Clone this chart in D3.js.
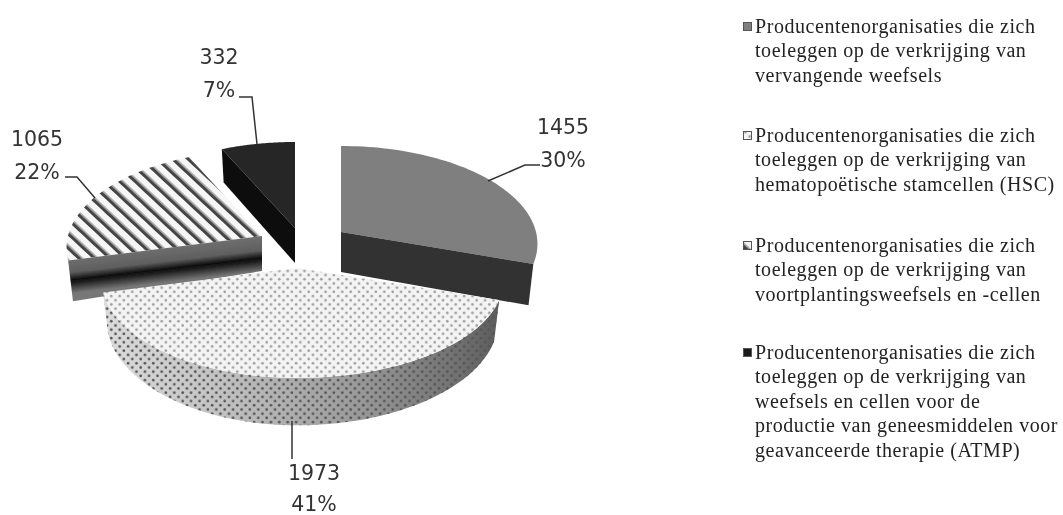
<!DOCTYPE html>
<html><head><meta charset="utf-8">
<script src="https://cdn.jsdelivr.net/npm/d3@7/dist/d3.min.js"></script>
<style>
html,body{margin:0;padding:0;background:#fff}
svg{display:block}
.lab{font-family:"DejaVu Sans",sans-serif;font-size:20.5px;fill:#333;text-anchor:middle;filter:blur(.35px)}
.leg{font-family:"Liberation Serif",serif;font-size:20px;letter-spacing:.55px;fill:#222;filter:blur(.5px)}
</style></head><body>
<svg id="c" width="1063" height="515"></svg>
<script>
const categories=["vervangende weefsels","HSC","voortplantingsweefsels en -cellen","ATMP"];
const values=[1455,1973,1065,332];
const percents=["30%","41%","22%","7%"];
const legendLines=[
 ["Producentenorganisaties die zich","toeleggen op de verkrijging van","vervangende weefsels"],
 ["Producentenorganisaties die zich","toeleggen op de verkrijging van","hematopoëtische stamcellen (HSC)"],
 ["Producentenorganisaties die zich","toeleggen op de verkrijging van","voortplantingsweefsels en -cellen"],
 ["Producentenorganisaties die zich","toeleggen op de verkrijging van","weefsels en cellen voor de","productie van geneesmiddelen voor","geavanceerde therapie (ATMP)"]
];
const apex=[[341,232],[297,268],[262,236],[295,228]];
const apexDepth=[40,39,35,35];
const radiusRight=[195,205,195,195];
const labelY=[[134,167],[480,511],[146,179],[64,97]];
const labelX=[563,314,37,219];
const leaders=[
 [[540,165],[525,165],[488,181]],
 [[292,421],[292,459]],
 [[65,177],[77,177],[95,198]],
 [[239,97],[252,97],[257,144]]
];
const legendY=[27,136,246,353];

const svg=d3.select("#c"),defs=svg.append("defs");
const pie=d3.pie().sort(null).value(d=>d)(values);
const Rl=194,Ry=96.5,c=.122,D=39,narrow=.975;
const proj=(a,i,z)=>{const o=apex[i],u=Math.sin(a),v=-Math.cos(a),w=1/(1-c*v);
 const R=u>0?radiusRight[i]:Rl;
 return [o[0]+R*u*w*(z?narrow:1),o[1]+Ry*v*w+(z?D*Math.pow(w,1.5):0)];};
const line=d3.line();
const arcPts=(a0,a1,i,z)=>d3.range(0,61).map(k=>proj(a0+(a1-a0)*k/60,i,z));

defs.append("filter").attr("id","soft").append("feGaussianBlur").attr("stdDeviation",.55);
const st=defs.append("pattern").attr("id","stripes").attr("patternUnits","userSpaceOnUse")
 .attr("width",10.5).attr("height",10.5).attr("patternTransform","rotate(-47)");
st.append("rect").attr("width",10.5).attr("height",10.5).attr("fill","#f6f6f6");
st.append("rect").attr("width",3.4).attr("height",10.5).attr("fill","#444");
st.append("rect").attr("x",3.4).attr("width",1.2).attr("height",10.5).attr("fill","#aaa");
const dot=(id,bg,fg,r)=>{const p=defs.append("pattern").attr("id",id).attr("patternUnits","userSpaceOnUse")
 .attr("width",8.4).attr("height",8.4);
 if(bg)p.append("rect").attr("width",8.4).attr("height",8.4).attr("fill",bg);
 [[2.1,2.1],[6.3,6.3]].forEach(q=>p.append("circle").attr("cx",q[0]).attr("cy",q[1]).attr("r",r).attr("fill",fg));};
dot("dots","#f4f4f4","#a0a0a0",1.35);
dot("dotsDark",null,"#555",1.35);
const wf=defs.append("linearGradient").attr("id","wallGrad");
[[0,"#dcdcdc"],[.3,"#c2c2c2"],[.65,"#999"],[.9,"#707070"],[1,"#5c5c5c"]].forEach(s=>wf.append("stop").attr("offset",s[0]).attr("stop-color",s[1]));

const g=svg.append("g").attr("filter","url(#soft)");
function cutFace(a,i){const o=apex[i];
 return line([o,proj(a,i,0),proj(a,i,1),[o[0],o[1]+apexDepth[i]]])+"Z";}
function wallPath(a0,a1,i){
 return line(arcPts(a0,a1,i,0).concat(arcPts(a0,a1,i,1).reverse()))+"Z";}
function topFace(a0,a1,i){return line([apex[i]].concat(arcPts(a0,a1,i,0)))+"Z";}

// slice 4 (ATMP)
{const s=pie[3];
 g.append("path").attr("d",topFace(s.startAngle,s.endAngle,3)).attr("fill","#262626");
 g.append("path").attr("d",cutFace(s.startAngle,3)).attr("fill","#101010");}
// slice 3 (stripes)
{const s=pie[2],o=apex[2],d=apexDepth[2];
 const gr=defs.append("linearGradient").attr("id","band").attr("gradientUnits","userSpaceOnUse")
  .attr("x1",o[0]).attr("y1",o[1]).attr("x2",o[0]+d*.115).attr("y2",o[1]+d);
 [[0,"#6f6f6f"],[.4,"#5f5f5f"],[.62,"#0e0e0e"],[.72,"#222"],[1,"#777"]].forEach(t=>gr.append("stop").attr("offset",t[0]).attr("stop-color",t[1]));
 g.append("path").attr("d",topFace(s.startAngle,s.endAngle,2)).attr("fill","url(#stripes)");
 g.append("path").attr("d",cutFace(s.startAngle,2)).attr("fill","url(#band)");}
// slice 1
{const s=pie[0];
 g.append("path").attr("d",topFace(s.startAngle,s.endAngle,0)).attr("fill","#7f7f7f");
 g.append("path").attr("d",cutFace(s.endAngle,0)).attr("fill","#303030");}
// slice 2
{const s=pie[1],w=wallPath(s.startAngle,s.endAngle,1);
 g.append("path").attr("d",w).attr("fill","url(#wallGrad)");
 g.append("path").attr("d",w).attr("fill","url(#dotsDark)");
 g.append("path").attr("d",topFace(s.startAngle,s.endAngle,1)).attr("fill","url(#dots)");}

leaders.forEach(l=>svg.append("path").attr("d",line(l)).attr("fill","none").attr("stroke","#333").attr("stroke-width",1.5));
values.forEach((v,i)=>{
 svg.append("text").attr("class","lab").attr("x",labelX[i]).attr("y",labelY[i][0]).text(v);
 svg.append("text").attr("class","lab").attr("x",labelX[i]).attr("y",labelY[i][1]).text(percents[i]);
});
// legend
const swatch=["#7f7f7f","url(#dots)","url(#stripes)","#1a1a1a"];
legendLines.forEach((ls,i)=>{
 svg.append("rect").attr("x",743.5).attr("y",legendY[i]-4.5).attr("width",8).attr("height",8)
  .attr("fill",swatch[i]).attr("stroke","#555").attr("stroke-width",1);
 ls.forEach((t,j)=>svg.append("text").attr("class","leg").attr("x",755).attr("y",legendY[i]+5.5+j*24.6).text(t));
});
</script></body></html>
